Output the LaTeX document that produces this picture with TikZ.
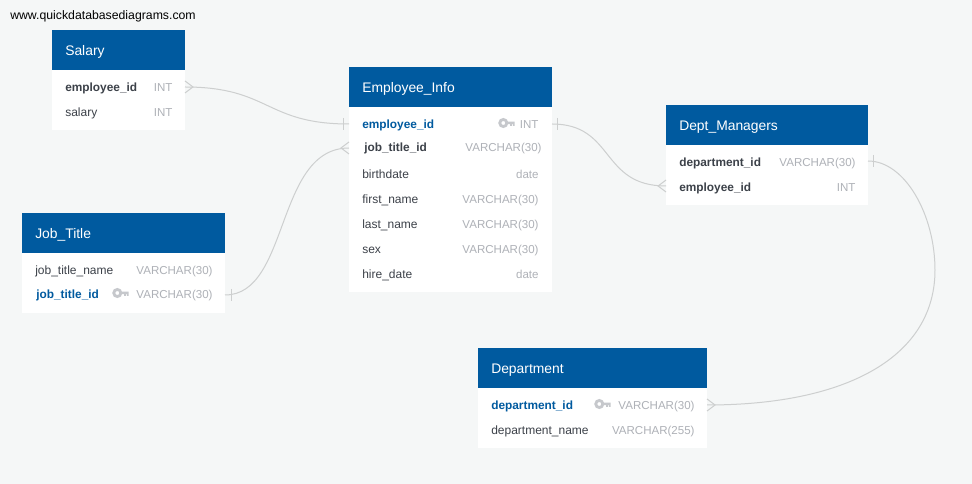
\documentclass[tikz,border=0pt]{standalone}
\usepackage{fontspec}
\setmainfont{Liberation Sans}
\definecolor{bgc}{HTML}{F5F7F7}
\definecolor{hdr}{HTML}{005A9F}
\definecolor{dark}{HTML}{3C4149}
\definecolor{typec}{HTML}{AEB1B7}
\definecolor{keyc}{HTML}{C6C8CC}
\definecolor{conn}{HTML}{CDCFCF}
\tikzset{
  x=0.75pt,y=-0.75pt,
  body/.style={anchor=north west,fill=white,inner sep=0pt,outer sep=0pt},
  head/.style={anchor=north west,fill=hdr,inner sep=0pt,outer sep=0pt,minimum height=30pt},
  title/.style={anchor=base west,text=white,inner sep=0pt,yshift=-0.75pt,font=\fontsize{10.4}{12}\selectfont},
  col/.style={anchor=base west,text=dark,inner sep=0pt,yshift=-0.75pt,font=\fontsize{9}{11}\selectfont},
  colb/.style={col,font=\fontsize{8.9}{11}\selectfont\bfseries},
  colk/.style={colb,text=hdr},
  typ/.style={anchor=base east,text=typec,inner sep=0pt,yshift=-0.75pt,xshift=0.6pt,font=\fontsize{8.65}{11}\selectfont},
  rel/.style={draw=conn,line width=0.75pt},
  tick/.style={draw=conn,line width=0.75pt},
  web/.style={anchor=base west,text=black,inner sep=0pt,font=\fontsize{9.2}{10}\selectfont}
}
\newcommand{\dbkey}[2]{%
  \fill[keyc,even odd rule] (#1+3.8,#2) circle[radius=3.8pt] (#1+3.8,#2) circle[radius=1.5pt];
  \fill[keyc] (#1+7,#2-1.3) rectangle (#1+15,#2+1.1) (#1+10.5,#2) rectangle (#1+12.3,#2+3) (#1+13.3,#2) rectangle (#1+15,#2+3);
}
\begin{document}
\begin{tikzpicture}
\useasboundingbox (0,0) rectangle (972,484);
\fill[bgc] (0,0) rectangle (972,484);

\node[web] (site) at (10,20) {www.quickdatabasediagrams.com};

% Salary
\node[body,minimum width=99.75pt,minimum height=75pt] (salary) at (52,30) {};
\node[head,minimum width=99.75pt] (salaryh) at (52,30) {};
\node[title] (salaryt) at (65,54.5) {Salary};
\node[colb] (s1) at (65,91) {employee\_id};
\node[typ] (s1t) at (172,91) {INT};
\node[col] (s2) at (65,116) {salary};
\node[typ] (s2t) at (172,116) {INT};

% Employee_Info
\node[body,minimum width=152.25pt,minimum height=168.75pt] (emp) at (349,67) {};
\node[head,minimum width=152.25pt] (emph) at (349,67) {};
\node[title] (empt) at (362,91.5) {Employee\_Info};
\node[colk] (e1) at (362,128) {employee\_id};
\dbkey{499.5}{123}
\node[typ] (e1t) at (538,128) {INT};
\node[colb] (e2) at (364,151) {job\_title\_id};
\node[typ] (e2t) at (541,151) {VARCHAR(30)};
\node[col] (e3) at (362,178) {birthdate};
\node[typ] (e3t) at (538,178) {date};
\node[col] (e4) at (362,203) {first\_name};
\node[typ] (e4t) at (538,203) {VARCHAR(30)};
\node[col] (e5) at (362,228) {last\_name};
\node[typ] (e5t) at (538,228) {VARCHAR(30)};
\node[col] (e6) at (362,253) {sex};
\node[typ] (e6t) at (538,253) {VARCHAR(30)};
\node[col] (e7) at (362,278) {hire\_date};
\node[typ] (e7t) at (538,278) {date};

% Dept_Managers
\node[body,minimum width=151.5pt,minimum height=75pt] (mgr) at (666,105) {};
\node[head,minimum width=151.5pt] (mgrh) at (666,105) {};
\node[title] (mgrt) at (679,129.5) {Dept\_Managers};
\node[colb] (m1) at (679,166) {department\_id};
\node[typ] (m1t) at (855,166) {VARCHAR(30)};
\node[colb] (m2) at (679,191) {employee\_id};
\node[typ] (m2t) at (855,191) {INT};

% Job_Title
\node[body,minimum width=152.25pt,minimum height=75pt] (job) at (22,213) {};
\node[head,minimum width=152.25pt] (jobh) at (22,213) {};
\node[title] (jobt) at (35,237.5) {Job\_Title};
\node[col] (j1) at (35,274) {job\_title\_name};
\node[typ] (j1t) at (212,274) {VARCHAR(30)};
\node[colk] (j2) at (36,298) {job\_title\_id};
\dbkey{113.5}{293}
\node[typ] (j2t) at (212,298) {VARCHAR(30)};

% Department
\node[body,minimum width=171.75pt,minimum height=75pt] (dep) at (478,348) {};
\node[head,minimum width=171.75pt] (deph) at (478,348) {};
\node[title] (dept) at (491,372.5) {Department};
\node[colk] (d1) at (491,409) {department\_id};
\dbkey{595.5}{404}
\node[typ] (d1t) at (694,409) {VARCHAR(30)};
\node[col] (d2) at (491,434) {department\_name};
\node[typ] (d2t) at (694,434) {VARCHAR(255)};

% connector ends
\coordinate (aS) at (185,87);
\coordinate (aE) at (349,124);
\coordinate (bJ) at (225,295);
\coordinate (bE) at (349,148);
\coordinate (cE) at (552,124);
\coordinate (cM) at (666,186);
\coordinate (dM) at (868,161);
\coordinate (dD) at (707,405);

\draw[rel] (aS) .. controls (270,87) and (265,124) .. (aE);
\draw[rel] (bJ) .. controls (290,295) and (275,148) .. (bE);
\draw[rel] (cE) .. controls (615,124) and (600,186) .. (cM);
\draw[rel] (dM) .. controls (905,161) and (935,215) .. (935,270)
   .. controls (935,355) and (850,405) .. (dD);

% crow's feet and bars
\draw[tick] (185,81) -- (193,87) -- (185,93);
\draw[tick] (343,118) -- (343,130);
\draw[tick] (349,142) -- (341,148) -- (349,154);
\draw[tick] (231,289) -- (231,301);
\draw[tick] (557,118) -- (557,130);
\draw[tick] (666,180) -- (658,186) -- (666,192);
\draw[tick] (873,155) -- (873,167);
\draw[tick] (707,399) -- (715,405) -- (707,411);
\end{tikzpicture}
\end{document}
